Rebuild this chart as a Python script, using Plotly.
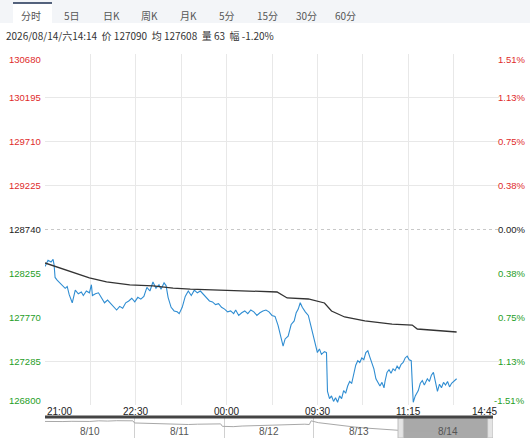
import plotly.graph_objects as go

# 分时 data: minute index since 21:00 open, price
minute_idx = [0, 3, 6, 8, 9, 10, 12, 15, 17, 20, 22, 24, 27, 30, 33, 36, 38, 41, 44, 46,
	47, 50, 53, 56, 59, 62, 65, 68, 71, 74, 77, 80, 83, 86, 89, 92, 95, 98, 101, 104,
	107, 110, 113, 115, 118, 120, 122, 125, 128, 131, 133, 136, 139, 142, 145, 148, 151, 154, 157, 160,
	163, 166, 169, 172, 175, 178, 181, 184, 187, 189, 192, 195, 198, 201, 204, 207, 210, 213, 216, 219,
	222, 225, 228, 231, 234, 236, 238, 241, 244, 247, 249, 251, 253, 255, 258, 261, 263, 266, 268, 270,
	272, 274, 277, 279, 280, 282, 284, 286, 288, 290, 292, 294, 296, 298, 300, 302, 304, 306, 308, 310,
	312, 314, 316, 318, 320, 322, 324, 326, 328, 330, 332, 334, 336, 337, 339, 341, 343, 345, 347, 349,
	351, 353, 355, 357, 359, 361, 363, 364, 365, 367, 370, 372, 374, 376, 379, 381, 383, 385, 387, 389,
	391, 393, 395, 397, 399, 401, 403, 405, 408]
price = [128330, 128400, 128380, 128410, 128350, 128210, 128180, 128150, 128120, 128090, 128110, 128020, 127930, 128070, 128030, 128050, 128010, 128060, 128040, 128130,
	128010, 128030, 128040, 127990, 127930, 127960, 127920, 127880, 127850, 127890, 127870, 127930, 127950, 127980, 127940, 127990, 127970, 128000, 128100, 128060,
	128160, 128090, 128130, 128080, 128150, 128120, 127990, 127880, 127840, 127830, 127810, 127880, 128000, 128060, 128010, 128070, 128040, 128060, 128020, 127990,
	127950, 127940, 127910, 127920, 127880, 127860, 127830, 127840, 127810, 127850, 127790, 127820, 127840, 127810, 127850, 127830, 127790, 127820, 127840, 127850,
	127830, 127790, 127780, 127680, 127560, 127450, 127530, 127560, 127690, 127730, 127820, 127860, 127930, 127880, 127830, 127790, 127700, 127560, 127490, 127380,
	127420, 127360, 127390, 127380, 126950, 126870, 126900, 126840, 126880, 126830, 126900, 126870, 126960, 126930, 127010, 127060, 127040, 127160, 127240, 127290,
	127270, 127320, 127300, 127380, 127400, 127330, 127270, 127200, 127090, 127040, 127010, 127050, 126990, 127060, 127160, 127190, 127150, 127200, 127180, 127230,
	127200, 127250, 127270, 127320, 127340, 127300, 127290, 127050, 126830, 126900, 126960, 127040, 127070, 127020, 127090, 127060, 127130, 127160, 127060, 126950,
	127030, 126990, 127050, 127020, 127060, 127000, 127040, 127060, 127090]

avg_idx = [0, 28, 44, 61, 84, 107, 127, 144, 173, 218, 230, 240, 261, 277, 284, 297, 317, 344, 364, 369, 384, 408]
avg_price = [128370, 128259, 128204, 128160, 128127, 128116, 128093, 128082, 128071, 128049, 128049, 127983, 127972, 127928, 127839, 127773, 127729, 127695, 127684, 127640, 127629, 127607]

prev_close = 128740
price_levels = [130680, 130195, 129710, 129225, 128740, 128255, 127770, 127285, 126800]
pct_labels = ['1.51%', '1.13%', '0.75%', '0.38%', '0.00%', '0.38%', '0.75%', '1.13%', '-1.51%']
grid_levels = [130680, 130195, 129710, 129225, 127285, 126800]

time_ticks = [0, 90, 180, 270, 360, 450]
time_labels = ['21:00', '22:30', '00:00', '09:30', '11:15', '14:45']

# navigator: 5 trading days
nav_x = [0, 0.1, 0.2, 0.3, 0.4, 0.5, 0.6, 0.65, 0.7, 0.8, 0.9, 0.98,
	1.0, 1.1, 1.2, 1.3, 1.4, 1.5, 1.6, 1.7, 1.8, 1.9, 1.96,
	1.98, 2.1, 2.2, 2.3, 2.4, 2.5, 2.6, 2.7, 2.8, 2.9, 2.95,
	2.97, 3.05, 3.15, 3.3, 3.45, 3.6, 3.7, 3.8, 3.9, 3.95,
	4.0, 4.1, 4.2, 4.3, 4.4, 4.5, 4.6]
nav_price = [128700, 128750, 128680, 128720, 128650, 128700, 128800, 128720, 128760, 128820, 128780, 128800,
	128450, 128400, 128350, 128300, 128250, 128300, 128200, 128250, 128280, 128330, 128300,
	127900, 127850, 127950, 128000, 127950, 128050, 128100, 128200, 128150, 128250, 128200,
	128800, 128500, 128300, 128000, 127800, 127600, 127500, 127300, 127200, 127150,
	127200, 127150, 127100, 127180, 127150, 127050, 127100]
nav_days = ['8/10', '8/11', '8/12', '8/13', '8/14']

tabs = ['分时', '5日', '日K', '周K', '月K', '5分', '15分', '30分', '60分']
tab_centers = [31, 72, 111, 149, 188, 227, 267, 306, 345]
info_text = '2026/08/14/六14:14  价 127090  均 127608  量 63  幅 -1.20%'

W, H = 530, 438
RED = '#e02b2b'
GREEN = '#1f9e1f'


def px(x):
	return x / W


def py(y):
	return 1 - y / H


def level_color(v):
	if v > prev_close:
		return RED
	if v < prev_close:
		return GREEN
	return '#222222'


fig = go.Figure()
fig.add_trace(go.Scatter(x=minute_idx, y=price, mode='lines',
	line=dict(color='#2f8dd2', width=1.1), hoverinfo='skip'))
fig.add_trace(go.Scatter(x=avg_idx, y=avg_price, mode='lines',
	line=dict(color='#333333', width=1.3), hoverinfo='skip'))
fig.add_trace(go.Scatter(x=nav_x, y=nav_price, mode='lines', xaxis='x2', yaxis='y2',
	line=dict(color='#a8a8a8', width=1), hoverinfo='skip'))

shapes = []
# header bar and selected tab
shapes.append(dict(type='rect', xref='paper', yref='paper', x0=0, x1=1, y0=py(23), y1=py(0),
	fillcolor='#f3f5f8', line=dict(width=0), layer='below'))
shapes.append(dict(type='rect', xref='paper', yref='paper', x0=px(13), x1=px(52), y0=py(23), y1=py(3),
	fillcolor='white', line=dict(width=0), layer='below'))
shapes.append(dict(type='line', xref='paper', yref='paper', x0=px(13), x1=px(52), y0=py(3), y1=py(3),
	line=dict(color='#1c2f52', width=1.5)))
# previous close dotted line
shapes.append(dict(type='line', xref='paper', yref='y', x0=px(45), x1=px(499), y0=prev_close, y1=prev_close,
	line=dict(color='#c8c8c8', width=1, dash='dot'), layer='below'))
# navigator
shapes.append(dict(type='rect', xref='x2', yref='paper', x0=3.96, x1=4.97, y0=0, y1=py(418),
	fillcolor='#a9a9a9', line=dict(width=0), layer='below'))
shapes.append(dict(type='rect', xref='x2', yref='paper', x0=3.94, x1=4.0, y0=0, y1=py(418),
	fillcolor='#e4e4e4', line=dict(color='#bdbdbd', width=1)))
shapes.append(dict(type='rect', xref='x2', yref='paper', x0=4.94, x1=5.0, y0=0, y1=py(418),
	fillcolor='#e4e4e4', line=dict(color='#bdbdbd', width=1)))
shapes.append(dict(type='line', xref='paper', yref='paper', x0=px(45), x1=px(493), y0=py(417), y1=py(417),
	line=dict(color='#444444', width=3)))

annotations = []
for name, c in zip(tabs, tab_centers):
	annotations.append(dict(xref='paper', yref='paper', x=px(c), y=py(15), text=name, showarrow=False,
		font=dict(size=10, color='#555555', family='Noto Sans CJK SC'), xanchor='center', yanchor='middle'))
annotations.append(dict(xref='paper', yref='paper', x=px(4), y=py(35), text=info_text, showarrow=False,
	font=dict(size=10, color='#333333', family='Noto Sans CJK SC'), xanchor='left', yanchor='middle'))

for i, (v, p) in enumerate(zip(price_levels, pct_labels)):
	shift = 0
	if i == 0:
		shift = -5
	elif i == len(price_levels) - 1:
		shift = 5
	col = level_color(v)
	annotations.append(dict(xref='paper', yref='y', x=px(43), y=v, yshift=shift, text=str(v), showarrow=False,
		font=dict(size=9.5, color=col), xanchor='right', yanchor='middle'))
	annotations.append(dict(xref='paper', yref='y', x=px(527), y=v, yshift=shift, text=p, showarrow=False,
		font=dict(size=9.5, color=col), xanchor='right', yanchor='middle'))

for i, (t, lab) in enumerate(zip(time_ticks, time_labels)):
	anchor = 'center'
	if i == 0:
		anchor = 'left'
	elif i == len(time_ticks) - 1:
		anchor = 'right'
	annotations.append(dict(xref='x', yref='paper', x=t, y=py(411), text=lab, showarrow=False,
		font=dict(size=10, color='#222222'), xanchor=anchor, yanchor='middle'))

for i, d in enumerate(nav_days):
	annotations.append(dict(xref='x2', yref='paper', x=i + 0.5, y=py(431), text=d, showarrow=False,
		font=dict(size=10, color='#555555'), xanchor='center', yanchor='middle'))

fig.update_layout(
	width=W, height=H,
	margin=dict(l=0, r=0, t=0, b=0),
	paper_bgcolor='white', plot_bgcolor='white',
	showlegend=False,
	font=dict(family='Liberation Sans, Arial, Noto Sans CJK SC', size=10),
	xaxis=dict(domain=[px(45), px(499)], range=[0, 450], tickvals=list(range(0, 451, 45)),
		showticklabels=False, showgrid=True, gridcolor='#e8e8e8', zeroline=False, showline=False, fixedrange=True),
	yaxis=dict(domain=[py(405), py(54)], range=[126800, 130680], tickvals=grid_levels,
		showticklabels=False, showgrid=True, gridcolor='#e8e8e8', zeroline=False, showline=False, fixedrange=True),
	xaxis2=dict(domain=[px(45), px(493)], range=[0, 5], anchor='y2', tickvals=[1, 2, 3, 4],
		showticklabels=False, showgrid=True, gridcolor='#d0d0d0', zeroline=False, fixedrange=True),
	yaxis2=dict(domain=[0, py(418)], range=[126000, 129260], anchor='x2',
		showticklabels=False, showgrid=False, zeroline=False, fixedrange=True),
	shapes=shapes,
	annotations=annotations,
)

# page body has a default 8px margin; drop it so the 530x438 figure fits the window
fig.write_html("out.html", config={'displayModeBar': False},
	post_script="document.body.style.margin='0';")
